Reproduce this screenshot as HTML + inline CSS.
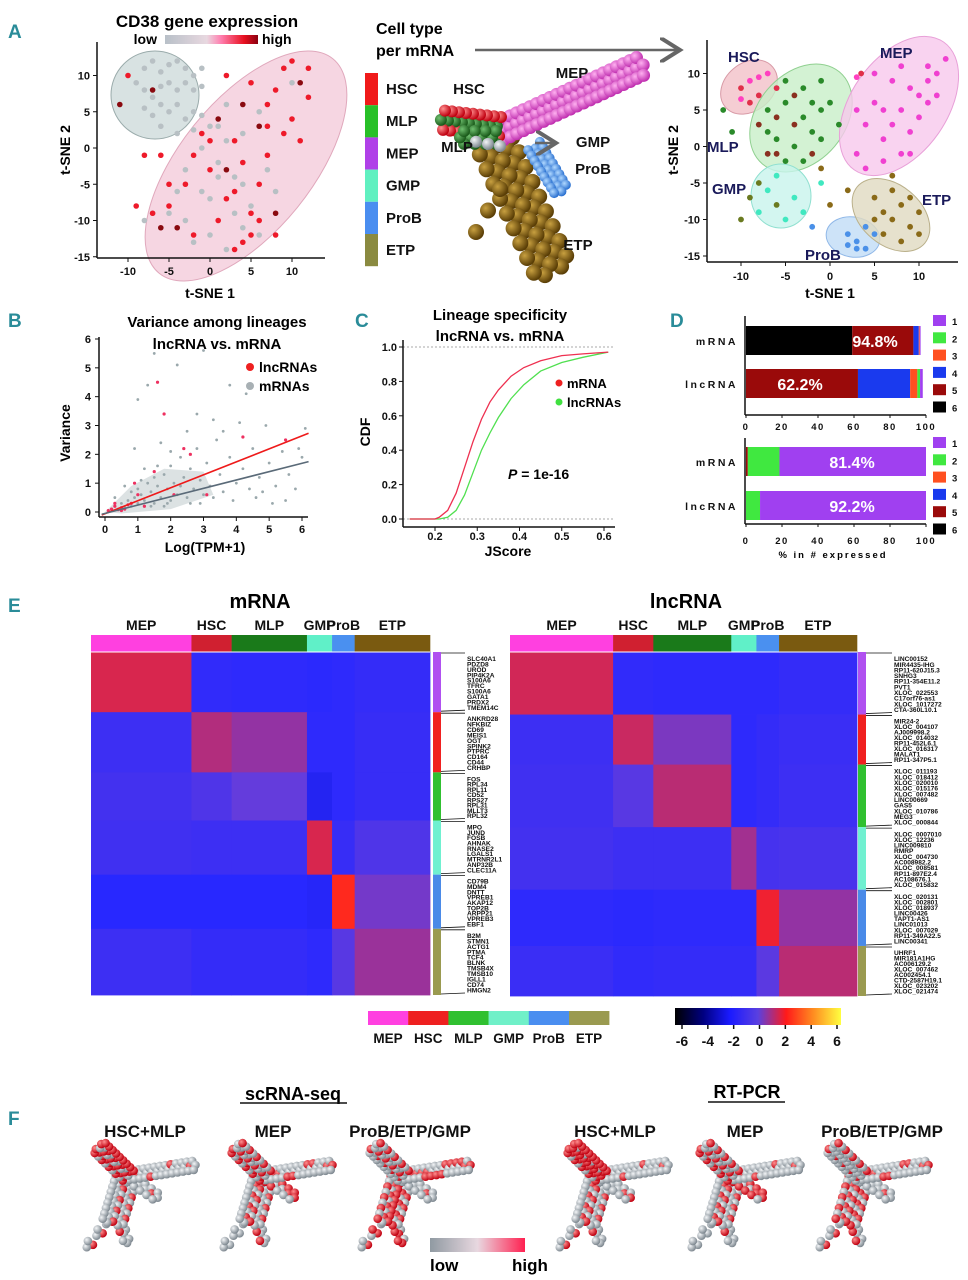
<!DOCTYPE html>
<html><head><meta charset="utf-8">
<style>
body{margin:0;background:#fff}
svg{display:block;font-family:"Liberation Sans",Arial,sans-serif}
.b{font-weight:bold}
.pl{fill:#2a8c99;font-size:19px;font-weight:bold;font-family:"Liberation Sans Narrow","Liberation Sans",sans-serif}
</style></head><body>
<svg id="fig" width="968" height="1280" viewBox="0 0 968 1280">
<defs>
<radialGradient id="sGray" cx="35%" cy="35%" r="65%"><stop offset="0" stop-color="#f4f6f8"/><stop offset="1" stop-color="#7e8890"/></radialGradient>
<radialGradient id="sRed" cx="35%" cy="35%" r="65%"><stop offset="0" stop-color="#ff9090"/><stop offset="1" stop-color="#c00010"/></radialGradient>
<radialGradient id="sMag" cx="35%" cy="35%" r="65%"><stop offset="0" stop-color="#ffb0f0"/><stop offset="1" stop-color="#c030b0"/></radialGradient>
<radialGradient id="sGreen" cx="35%" cy="35%" r="65%"><stop offset="0" stop-color="#70c070"/><stop offset="1" stop-color="#1a5a1a"/></radialGradient>
<radialGradient id="sBlue" cx="35%" cy="35%" r="65%"><stop offset="0" stop-color="#b0d8ff"/><stop offset="1" stop-color="#2a70d0"/></radialGradient>
<radialGradient id="sBrown" cx="35%" cy="35%" r="65%"><stop offset="0" stop-color="#c8a040"/><stop offset="1" stop-color="#5a3e06"/></radialGradient>
<linearGradient id="cdGrad" x1="0" x2="1"><stop offset="0" stop-color="#b8c0c8"/><stop offset="0.45" stop-color="#e8d8e0"/><stop offset="0.6" stop-color="#ff80b0"/><stop offset="0.85" stop-color="#e81020"/><stop offset="1" stop-color="#8a0010"/></linearGradient>
<linearGradient id="fGrad" x1="0" x2="1"><stop offset="0" stop-color="#909aa2"/><stop offset="0.5" stop-color="#e8d8e0"/><stop offset="1" stop-color="#ff2050"/></linearGradient>
<linearGradient id="hmGrad" x1="0" x2="1"><stop offset="0" stop-color="#000"/><stop offset="0.17" stop-color="#000080"/><stop offset="0.33" stop-color="#1a1aff"/><stop offset="0.5" stop-color="#5a40e0"/><stop offset="0.67" stop-color="#ff1a1a"/><stop offset="0.83" stop-color="#ff8a20"/><stop offset="1" stop-color="#ffff40"/></linearGradient>
<marker id="arr" markerWidth="10" markerHeight="10" refX="8" refY="5" orient="auto"><path d="M0,0 L8,5 L0,10" fill="none" stroke="#666" stroke-width="1.6"/></marker>
</defs>

<text class="pl" x="8" y="38">A</text>
<text class="pl" x="8" y="327">B</text>
<text class="pl" x="355" y="327">C</text>
<text class="pl" x="670" y="327">D</text>
<text class="pl" x="8" y="612">E</text>
<text class="pl" x="8" y="1125">F</text>

<text class="b" x="207" y="27" font-size="17" text-anchor="middle">CD38 gene expression</text>
<text class="b" x="157" y="44" font-size="14" text-anchor="end">low</text>
<rect x="165" y="35" width="93" height="9" fill="url(#cdGrad)"/>
<text class="b" x="262" y="44" font-size="14">high</text>
<g id="aLeft"></g>
<text class="b" x="210" y="298" font-size="14" text-anchor="middle">t-SNE 1</text>
<text class="b" x="70" y="150" font-size="14" text-anchor="middle" transform="rotate(-90 70 150)">t-SNE 2</text>

<text class="b" x="376" y="34" font-size="16">Cell type</text>
<text class="b" x="376" y="56" font-size="16">per mRNA</text>
<line x1="475" y1="50" x2="680" y2="50" stroke="#666" stroke-width="2.5" marker-end="url(#arr)"/>
<g id="ctLegend"></g>
<g id="aTree"></g>

<g id="aRight"></g>
<text class="b" x="830" y="298" font-size="14" text-anchor="middle">t-SNE 1</text>
<text class="b" x="678" y="150" font-size="14" text-anchor="middle" transform="rotate(-90 678 150)">t-SNE 2</text>

<text class="b" x="217" y="327" font-size="15" text-anchor="middle">Variance among lineages</text>
<text class="b" x="217" y="349" font-size="15" text-anchor="middle">lncRNA vs. mRNA</text>
<g id="pB"></g>
<text class="b" x="205" y="552" font-size="14" text-anchor="middle">Log(TPM+1)</text>
<text class="b" x="70" y="433" font-size="14" text-anchor="middle" transform="rotate(-90 70 433)">Variance</text>
<circle cx="250" cy="367" r="4" fill="#ee2020"/>
<text class="b" x="259" y="372" font-size="14">lncRNAs</text>
<circle cx="250" cy="386" r="4" fill="#a8b0b4"/>
<text class="b" x="259" y="391" font-size="14">mRNAs</text>

<text class="b" x="500" y="320" font-size="15" text-anchor="middle">Lineage specificity</text>
<text class="b" x="500" y="341" font-size="15" text-anchor="middle">lncRNA vs. mRNA</text>
<g id="pC"></g>
<text class="b" x="508" y="556" font-size="14" text-anchor="middle">JScore</text>
<text class="b" x="370" y="432" font-size="14" text-anchor="middle" transform="rotate(-90 370 432)">CDF</text>
<circle cx="559" cy="383" r="3.5" fill="#ee2020"/>
<text class="b" x="567" y="388" font-size="13">mRNA</text>
<circle cx="559" cy="402" r="3.5" fill="#40e040"/>
<text class="b" x="567" y="407" font-size="13">lncRNAs</text>
<text class="b" x="508" y="479" font-size="14"><tspan font-style="italic">P</tspan> = 1e-16</text>

<g id="pD"></g>
<text class="b" x="833" y="558" font-size="9.5" letter-spacing="2" text-anchor="middle">% in # expressed</text>

<text class="b" x="260" y="608" font-size="20" text-anchor="middle">mRNA</text>
<text class="b" x="686" y="608" font-size="20" text-anchor="middle">lncRNA</text>
<g id="hmL"></g>
<g id="hmR"></g>
<g id="eLeg"></g>

<text class="b" x="293" y="1100" font-size="18" text-anchor="middle">scRNA-seq</text>
<line x1="240" y1="1103" x2="347" y2="1103" stroke="#111" stroke-width="1.5"/>
<text class="b" x="747" y="1098" font-size="18" text-anchor="middle">RT-PCR</text>
<line x1="708" y1="1102" x2="785" y2="1102" stroke="#111" stroke-width="1.5"/>
<g id="fTrees"></g>
<rect x="430" y="1238" width="95" height="14" fill="url(#fGrad)"/>
<text class="b" x="430" y="1271" font-size="17">low</text>
<text class="b" x="512" y="1271" font-size="17">high</text>
</svg>

<script>
// ---------- DATA ----------
const cellTypes=['HSC','MLP','MEP','GMP','ProB','ETP'];
const cd38Gray=[[-8,11],[-7,12],[-6,10.5],[-5,11.5],[-4,12],[-3,11],[-2,10],[-1,11],[-9,9],[-8,8],[-7,7],[-6,8.5],[-5,9],[-4,8],[-3,9],[-2,8],[-1,8.5],[-8,5.5],[-7,4.5],[-6,6],[-5,5],[-4,6],[-3,4],[-2,5],[-1,4.5],[-6,3],[-4,2],[-2,2.5],[0,3],[2,1],[4,2],[6,5],[1,-2],[3,-4],[-3,-3],[-1,-6],[5,-8],[0,-12],[-5,-9],[7,-3],[2,6],[8,-6],[4,-11],[-2,-13],[-1,0],[1,-4],[0,-7],[3,-9],[-4,-6],[-3,-10],[9,11],[10,9],[-7,-9],[-8,-10],[6,-12],[2,-14],[1,3],[4,-5]];
const cd38Red=[[-11,6],[-8,-1],[-6,-1],[-5,-8],[-7,-9],[-4,-11],[-3,-5],[-2,-1],[-1,2],[0,-3],[1,4],[2,-7],[3,1],[4,-2],[5,-9],[6,3],[7,6],[8,8],[9,11],[10,12],[11,9],[12,7],[9,2],[7,-1],[6,-5],[8,-9],[5,-12],[3,-14],[1,-10],[-2,-12],[4,6],[2,10],[5,9],[10,4],[11,1],[-6,-11],[-9,-8],[0,1],[3,-6],[6,-10],[-7,8],[-10,10],[8,-12],[4,-13],[-5,-5],[2,-3],[7,3],[12,11]];
const tsneHSC=[[-10,8],[-9,9],[-8,7],[-7,10],[-9,6],[-8,9.5],[-6,8],[-10,6.5],[3.5,10],[3,9.5]];
const tsneMLP=[[-8,3],[-7,5],[-6,1],[-5,6],[-4,3],[-3,8],[-2,2],[-1,5],[-6,-1],[-5,-2],[-4,0],[-3,4],[-2,-1],[-7,2],[-1,9],[0,6],[-4,7],[-5,9],[-3,-2],[-2,6],[-6,4],[-12,5],[-11,2],[1,3],[-7,-1],[-1,1]];
const tsneMEP=[[4,3],[5,6],[6,1],[7,9],[8,5],[9,2],[10,7],[11,11],[12,10],[13,12],[3,-1],[4,-3],[6,-2],[7,3],[8,-1],[9,8],[10,4],[11,6],[5,10],[8,11],[12,7],[6,5],[9,-1],[3,5],[11,9]];
const tsneGMP=[[-9,-7],[-8,-9],[-7,-6],[-6,-8],[-5,-10],[-4,-7],[-8,-5],[-6,-4],[-3,-9],[-10,-10],[-1,-5]];
const tsneProB=[[2,-12],[3,-13],[4,-11],[3,-14],[5,-12],[2,-13.5],[-2,-11],[4,-14]];
const tsneETP=[[5,-7],[6,-9],[7,-10],[8,-8],[9,-11],[10,-9],[6,-12],[8,-13],[7,-6],[5,-10],[9,-7],[10,-12],[7,-4],[-1,-3],[0,-8],[2,-6]];
const bGray=[[0.1,0.05],[0.2,0.1],[0.3,0.2],[0.4,0.1],[0.5,0.3],[0.6,0.15],[0.7,0.4],[0.8,0.2],[0.9,0.5],[1,0.3],[1,0.8],[1.1,0.6],[1.2,0.4],[1.3,1.0],[1.4,0.7],[1.5,0.3],[1.5,1.2],[1.6,0.9],[1.7,0.5],[1.8,1.3],[1.9,0.8],[2,0.4],[2,1.6],[2.1,1.0],[2.2,0.6],[2.3,1.9],[2.4,1.2],[2.5,0.5],[2.6,1.5],[2.7,0.8],[2.8,2.2],[2.9,1.1],[3,0.6],[3.1,1.7],[3.2,0.9],[3.4,2.5],[3.5,1.3],[3.6,0.7],[3.8,1.9],[4,1.0],[4.1,3.1],[4.2,1.5],[4.4,0.8],[4.5,2.2],[4.7,1.2],[4.9,3.0],[5,1.7],[5.2,0.9],[5.4,2.1],[5.6,1.3],[5.8,0.8],[6,1.9],[6.1,2.9],[1.5,5.5],[3,5.6],[2.2,5.1],[1,3.9],[4.3,4.1],[0.9,2.2],[2.8,3.4],[3.8,4.4],[1.3,4.4],[3.3,3.2],[5.9,2.2],[2.5,2.8],[1.7,2.4],[0.6,0.9],[1.2,1.5],[2.9,0.3],[4.6,0.5],[5.5,0.4],[0.3,0.5],[2,2.1],[1.8,0.2],[3.6,2.8],[1.1,1.1],[1.4,0.2],[2.3,0.9],[2.6,0.3],[3.3,0.5],[0.8,0.7],[1.6,1.6],[1.9,0.3],[3.9,0.4],[4.8,0.7],[5.1,0.3]];
const bRed=[[0.1,0.05],[0.2,0.1],[0.3,0.2],[0.4,0.08],[0.5,0.15],[0.6,0.1],[0.7,0.25],[0.3,0.3],[0.5,0.05],[0.8,0.3],[1,0.6],[1.2,0.2],[1.6,4.5],[2.4,2.2],[1.8,3.4],[2.6,2.0],[0.9,1.0],[1.5,1.4],[2.1,0.6],[3.1,0.6],[4.2,2.6],[5.5,2.5]];
const bSlopes=[0.45,0.29];
const bIntercept=[-0.06,-0.05];
const cdfX=[0.14,0.2,0.21,0.23,0.25,0.27,0.29,0.31,0.33,0.35,0.38,0.41,0.45,0.5,0.55,0.61];
const cdfMrna=[0,0,0.01,0.05,0.15,0.3,0.45,0.58,0.68,0.75,0.83,0.88,0.92,0.95,0.96,0.97];
const cdfLnc=[0,0,0,0.01,0.05,0.14,0.27,0.4,0.5,0.59,0.7,0.78,0.86,0.91,0.94,0.97];
const dRows=['mRNA','lncRNA'];
const dTopMrna=[[6,59],[5,34],[4,3],[3,0.5],[1,0.5]];
const dTopLnc=[[5,62.2],[4,29],[3,4],[2,1.5],[1,1.5]];
const dBotMrna=[[5,1],[2,17.6],[1,81.4]];
const dBotLnc=[[2,7.8],[1,92.2]];
const dTopLabels=['94.8%','62.2%'];
const dBotLabels=['81.4%','92.2%'];
const hmGroups=['MEP','HSC','MLP','GMP','ProB','ETP'];
const leftCellCounts=[40,16,30,10,9,30];
const rightCellCounts=[41,16,31,10,9,31];
const leftGeneCounts=[10,10,8,9,9,11];
const rightGeneCounts=[10,8,10,10,9,8];
const leftMeans=[[1.5,-1.7,-1.8,-1.9,-1.8,-1.6],[-1.3,1.0,0.6,-1.8,-1.8,-1.5],[-1.1,-0.7,0.0,-2.2,-1.8,-1.5],[-1.2,-1.3,-1.3,1.5,-1.5,-0.7],[-2.0,-2.0,-2.0,-2.1,2.2,0.2],[-1.3,-1.6,-1.6,-1.8,-0.4,0.7]];
const rightMeans=[[1.4,-1.7,-1.8,-1.8,-1.8,-1.6],[-1.3,1.3,0.3,-1.8,-1.6,-1.4],[-1.2,-0.4,1.1,-1.8,-1.6,-1.3],[-1.1,-1.3,-1.3,0.8,-1.0,-0.9],[-1.8,-1.9,-1.8,-1.8,1.8,0.6],[-1.4,-1.7,-1.6,-1.6,-0.3,1.1]];
const leftGenes=[['SLC40A1','PDZD8','UROD','PIP4K2A','S100A6','TFRC','S100A6','GATA1','PRDX2','TMEM14C'],['ANKRD28','NFKBIZ','CD69','MEIS1','OGT','SPINK2','PTPRC','CD164','CD44','CRHBP'],['FOS','RPL34','RPL11','CD52','RPS27','RPL31','MLLT3','RPL32'],['MPO','JUND','FOSB','AHNAK','RNASE2','LGALS1','MTRNR2L1','ANP32B','CLEC11A'],['CD79B','MDM4','DNTT','VPREB1','AKAP12','TOP2B','ARPP21','VPREB3','EBF1'],['B2M','STMN1','ACTG1','PTMA','TCF4','BLNK','TMSB4X','TMSB10','IGLL1','CD74','HMGN2']];
const rightGenes=[['LINC00152','MIR4435-IHG','RP11-620J15.3','SNHG3','RP11-354E11.2','PVT1','XLOC_022553','C17orf76-as1','XLOC_1017272','CTA-360L10.1'],['MIR24-2','XLOC_004107','AJ009998.2','XLOC_014032','RP11-452L6.1','XLOC_016317','MALAT1','RP11-347P5.1'],['XLOC_011193','XLOC_018412','XLOC_020010','XLOC_015176','XLOC_007482','LINC00669','GAS5','XLOC_010786','MEG3','XLOC_000844'],['XLOC_0007010','XLOC_12236','LINC009810','RMRP','XLOC_004730','AC008982.2','XLOC_008581','RP11-897E2.4','AC108676.1','XLOC_015832'],['XLOC_020131','XLOC_002801','XLOC_018937','LINC00426','TAPT1-AS1','LINC01013','XLOC_007029','RP11-349A22.5','LINC00341'],['UHRF1','MIR181A1HG','AC006129.2','XLOC_007462','AC002454.1','CTD-2587H19.1','XLOC_023202','XLOC_021474']];
const cbTicks=[-6,-4,-2,0,2,4,6];
const fTitles=['HSC+MLP','MEP','ProB/ETP/GMP','HSC+MLP','MEP','ProB/ETP/GMP'];
const fRedFrac=[[0.1,0.7,0.2,0.35,0.1,0.1],[0.6,0.35,0.3,0.1,0.2,0.3],[0.05,0.3,0.6,0.6,0.4,0.6],[0.12,0.75,0.3,0.3,0.1,0.1],[0.8,0.35,0.3,0.1,0.1,0.1],[0.08,0.2,0.5,0.4,0.2,0.3]];

// ---------- HELPERS ----------
const NS='http://www.w3.org/2000/svg';
function el(tag,attrs,parent){const e=document.createElementNS(NS,tag);for(const k in attrs)e.setAttribute(k,attrs[k]);parent.appendChild(e);return e;}
function txt(parent,x,y,s,size,anchor,extra){const t=el('text',Object.assign({x:x,y:y,'font-size':size,'text-anchor':anchor||'middle','font-weight':'bold',fill:'#111'},extra||{}),parent);t.textContent=s;return t;}
function lin(d0,d1,r0,r1){return v=>r0+(v-d0)*(r1-r0)/(d1-d0);}

(function(){
 const g=document.getElementById('aLeft');
 const sx=lin(0,10,210,292), sy=lin(0,10,148,75.5);
 let e=el('ellipse',{cx:155,cy:95,rx:44,ry:44,fill:'#d8e2e2',stroke:'#9aabab','stroke-width':1},g);
 
 e=el('ellipse',{cx:246,cy:166,rx:138,ry:66,transform:'rotate(-51 246 166)',fill:'#f6d6e2',stroke:'#e0a8bc','stroke-width':1},g);
 
 cd38Gray.forEach(p=>{const c=el('circle',{cx:sx(p[0]),cy:sy(p[1]),r:2.8,fill:'#b8c0c4'},g);
  });
 cd38Red.forEach((p,i)=>{const c=el('circle',{cx:sx(p[0]),cy:sy(p[1]),r:2.8,fill:i%5==0?'#8a0a10':'#ee1a2a'},g);
  });
 el('line',{x1:97,y1:42,x2:97,y2:258,stroke:'#111','stroke-width':1.5},g);
 el('line',{x1:97,y1:258,x2:325,y2:258,stroke:'#111','stroke-width':1.5},g);
 [-10,-5,0,5,10].forEach(v=>{el('line',{x1:sx(v),y1:258,x2:sx(v),y2:262,stroke:'#111'},g);txt(g,sx(v),275,String(v),11);});
 [10,5,0,-5,-10,-15].forEach(v=>{el('line',{x1:93,y1:sy(v),x2:97,y2:sy(v),stroke:'#111'},g);txt(g,90,sy(v)+4,String(v),11,'end');});
})();

(function(){
 const g=document.getElementById('ctLegend');
 const cols=['#f01a1a','#28c028','#b040e8','#60f0c0','#4a8ef0','#8a8a40'];
 cellTypes.forEach((c,i)=>{const r=el('rect',{x:365,y:73+i*32.2,width:13,height:32.2,fill:cols[i]},g);
  
  const t=txt(g,386,94+i*32.2,c,15,'start');
  });
})();

// branch node generator: several lateral rows for thickness
function branchNodes(b){const out=[];const [x0,y0,x1,y1,n,w]=b;const dx=x1-x0,dy=y1-y0,L=Math.hypot(dx,dy)||1;const px=-dy/L,py=dx/L;
 for(let i=0;i<n;i++){const t=n==1?0:i/(n-1);const bx=x0+dx*t,by=y0+dy*t;
  if(w>0){const k=w>0.06?[-1,-0.5,0,0.5,1]:[-1,0,1];k.forEach((f,j)=>{const sh=(j%2?0.5:0)/(n||1);out.push([bx+px*w*f+dx*sh,by+py*w*f+dy*sh]);});}
  else out.push([bx,by]);}return out;}

(function(){
 const g=document.getElementById('aTree');
 const bx=440,by=60,bw=200,bh=215;
 const br=[[0.28,0.40,0.55,0.95,9,0.09,'sBrown',8],[0.3,0.6,0.18,0.8,3,0,'sBrown',8],[0.47,0.40,0.6,0.6,9,0.035,'sBlue',5],[0.30,0.33,1.0,0.03,22,0.045,'sMag',6.5],[0.30,0.31,0.02,0.28,9,0.045,'sRed',6],[0.28,0.36,0.12,0.36,4,0.03,'sGreen',6],[0.3,0.40,0.18,0.38,3,0,'sGray',6]];
 br.forEach((b,bi)=>{branchNodes(b).forEach((p,i)=>{let f=b[6];if(bi==4&&i%3==1)f='sGreen';
  const c=el('circle',{cx:bx+p[0]*bw,cy:by+p[1]*bh,r:b[7],fill:'url(#'+f+')'},g);
  });});
 el('line',{x1:535,y1:143,x2:556,y2:143,stroke:'#666','stroke-width':2.5,'marker-end':'url(#arr)'},g);
 [['MEP',572,78],['HSC',469,94],['MLP',457,152],['GMP',593,147],['ProB',593,174],['ETP',578,250]].forEach(l=>{const t=txt(g,l[1],l[2],l[0],15,'middle');
  });
})();

(function(){
 const g=document.getElementById('aRight');
 const sx=lin(0,10,830,919), sy=lin(0,10,146.5,73.5);
 const ells=[[749,87,31,24,-40,'#f2c0c8','#d89aa6','HSC'],[801,118,44,60,40,'#c8efc8','#90d090','MLP'],[899,106,48,78,35,'#f8c8ec','#e8a0d8','MEP'],[781,196,30,32,0,'#c8f4ec','#90e0d0','GMP'],[853,237,27,20,10,'#c0dcf6','#90b8e8','ProB'],[891,215,44,30,40,'#e0dac0','#bab08a','ETP']];
 ells.forEach(e=>{const n=el('ellipse',{cx:e[0],cy:e[1],rx:e[2],ry:e[3],transform:`rotate(${e[4]} ${e[0]} ${e[1]})`,fill:e[5],stroke:e[6],'fill-opacity':0.8},g);
  });
 const sets=[[tsneHSC,'#e0304a'],[tsneMLP,'#2a8a2a'],[tsneMEP,'#f040d0'],[tsneGMP,'#40e8c0'],[tsneProB,'#4a90e8'],[tsneETP,'#8a6a18']];
 sets.forEach((s,si)=>s[0].forEach((p,i)=>{let col=s[1];if(si==1&&i%4==0)col='#8a3020';if(si==0&&i%2==1)col='#ff40c0';if(si==3&&i%3==0)col='#6a7a20';
  const c=el('circle',{cx:sx(p[0]),cy:sy(p[1]),r:2.9,fill:col},g);
  }));
 el('line',{x1:707,y1:40,x2:707,y2:262,stroke:'#111','stroke-width':1.5},g);
 el('line',{x1:707,y1:262,x2:958,y2:262,stroke:'#111','stroke-width':1.5},g);
 [-10,-5,0,5,10].forEach(v=>{el('line',{x1:sx(v),y1:262,x2:sx(v),y2:266,stroke:'#111'},g);txt(g,sx(v),280,String(v),11);});
 [10,5,0,-5,-10,-15].forEach(v=>{el('line',{x1:703,y1:sy(v),x2:707,y2:sy(v),stroke:'#111'},g);txt(g,700,sy(v)+4,String(v),11,'end');});
 [['HSC',728,62],['MEP',880,58],['MLP',707,152],['GMP',712,194],['ETP',922,205],['ProB',805,260]].forEach(l=>{const t=txt(g,l[1],l[2],l[0],15,'start',{fill:'#1a1a5a'});
  });
})();

(function(){
 const g=document.getElementById('pB');
 const sx=lin(0,6,105,302), sy=lin(0,6,512,339);
 el('path',{d:`M${sx(0)},${sy(0)} L${sx(0.8)},${sy(0.9)} L${sx(1.8)},${sy(1.5)} L${sx(3)},${sy(1.4)} L${sx(3.3)},${sy(0.6)} L${sx(2)},${sy(0.1)} L${sx(0.5)},${sy(-0.05)}Z`,fill:'#c4ced0','fill-opacity':0.6},g);
 bGray.forEach(p=>{const c=el('circle',{cx:sx(p[0]),cy:sy(p[1]),r:1.4,fill:'#9aa8ac'},g);
  });
 bRed.forEach(p=>{const c=el('circle',{cx:sx(p[0]),cy:sy(p[1]),r:1.6,fill:'#ee3060'},g);
  });
 ['#ee1a1a','#5a6a78'].forEach((col,i)=>{const l=el('line',{x1:sx(-0.1),y1:sy(bIntercept[i]-0.1*bSlopes[i]),x2:sx(6.2),y2:sy(bIntercept[i]+6.2*bSlopes[i]),stroke:col,'stroke-width':1.6},g);
  });
 el('line',{x1:99,y1:337,x2:99,y2:517,stroke:'#111','stroke-width':1.5},g);
 el('line',{x1:99,y1:517,x2:308,y2:517,stroke:'#111','stroke-width':1.5},g);
 [0,1,2,3,4,5,6].forEach(v=>{el('line',{x1:sx(v),y1:517,x2:sx(v),y2:521,stroke:'#111'},g);txt(g,sx(v),533,String(v),11);
  el('line',{x1:95,y1:sy(v),x2:99,y2:sy(v),stroke:'#111'},g);txt(g,91,sy(v)+4,String(v),11,'end');});
})();

(function(){
 const g=document.getElementById('pC');
 const sx=lin(0.2,0.6,435,604), sy=lin(0,1,519,347);
 [0,1].forEach(v=>el('line',{x1:403,y1:sy(v),x2:615,y2:sy(v),stroke:'#aaa','stroke-dasharray':'2,2'},g));
 const mk=(arr,col,name)=>{const d=cdfX.map((x,i)=>(i?'L':'M')+sx(x)+','+sy(arr[i])).join(' ');
  const p=el('path',{d:d,fill:'none',stroke:col,'stroke-width':1.3},g);};
 mk(cdfLnc,'#50e050','cdf-lncrna-line');mk(cdfMrna,'#ee3050','cdf-mrna-line');
 el('line',{x1:403,y1:340,x2:403,y2:527,stroke:'#111','stroke-width':1.5},g);
 el('line',{x1:403,y1:527,x2:615,y2:527,stroke:'#111','stroke-width':1.5},g);
 [0,0.2,0.4,0.6,0.8,1].forEach(v=>{el('line',{x1:399,y1:sy(v),x2:403,y2:sy(v),stroke:'#111'},g);txt(g,397,sy(v)+4,v.toFixed(1),11,'end');});
 [0.2,0.3,0.4,0.5,0.6].forEach(v=>{el('line',{x1:sx(v),y1:527,x2:sx(v),y2:531,stroke:'#111'},g);txt(g,sx(v),540,v.toFixed(1),11);});
})();

(function(){
 const g=document.getElementById('pD');
 const cols={1:'#a040f0',2:'#40e840',3:'#ff5020',4:'#1a3aee',5:'#9a0a0a',6:'#000'};
 const sx=lin(0,100,746,926);
 const bars=[[dTopMrna,326,dTopLabels[0],875],[dTopLnc,369,dTopLabels[1],800],[dBotMrna,447,dBotLabels[0],852],[dBotLnc,491,dBotLabels[1],852]];
 bars.forEach((b,bi)=>{let acc=0;b[0].forEach(s=>{const r=el('rect',{x:sx(acc),y:b[1],width:sx(acc+s[1])-sx(acc),height:29,fill:cols[s[0]]},g);
   acc+=s[1];});
  const t=txt(g,b[3],b[1]+21,b[2],16,'middle',{fill:'#fff'});
  const l=txt(g,738,b[1]+19,dRows[bi%2],10.5,'end',{'letter-spacing':'2.5'});});
 [[316,415,424],[438,524,538]].forEach(a=>{el('line',{x1:745,y1:a[0],x2:745,y2:a[1],stroke:'#111','stroke-width':1.5},g);
  el('line',{x1:745,y1:a[1],x2:926,y2:a[1],stroke:'#111','stroke-width':1.5},g);
  [0,20,40,60,80,100].forEach(v=>{el('line',{x1:sx(v),y1:a[1],x2:sx(v),y2:a[1]+3,stroke:'#111'},g);txt(g,sx(v),a[2]+6,String(v),9.5,'middle',{'letter-spacing':'1.5'});});});
 [[315,17.3],[437,17.3]].forEach(a=>{[1,2,3,4,5,6].forEach((k,i)=>{const r=el('rect',{x:933,y:a[0]+i*a[1],width:13,height:11,fill:cols[k]},g);
   txt(g,952,a[0]+i*a[1]+10,String(k),9.5,'start');});});
})();

function hmColor(v){const st=[[-6,[0,0,0]],[-4,[0,0,128]],[-2,[40,40,255]],[0,[100,60,220]],[2,[255,30,30]],[4,[255,140,32]],[6,[255,255,64]]];
 v=Math.max(-6,Math.min(6,v));for(let i=0;i<st.length-1;i++){if(v<=st[i+1][0]){const t=(v-st[i][0])/(st[i+1][0]-st[i][0]);const a=st[i][1],b=st[i+1][1];return `rgb(${a.map((c,k)=>Math.round(c+(b[k]-c)*t)).join(',')})`;}}return 'rgb(255,255,64)';}
function heatmap(gid,x0,x1,y0,y1,cellCounts,geneCounts,means,genes,sideX,labX,hdrCols){
 const g=document.getElementById(gid);
 const totC=cellCounts.reduce((a,b)=>a+b,0), totG=geneCounts.reduce((a,b)=>a+b,0);
 const cx=[x0];cellCounts.forEach(c=>cx.push(cx[cx.length-1]+c/totC*(x1-x0)));
 const gy=[y0];geneCounts.forEach(c=>gy.push(gy[gy.length-1]+c/totG*(y1-y0)));
 hmGroups.forEach((h,i)=>{const r=el('rect',{x:cx[i],y:635,width:cx[i+1]-cx[i]+0.3,height:17,fill:hdrCols[i]},g);
  
  const t=txt(g,(cx[i]+cx[i+1])/2,630,h,14);});
 const sideCols=['#b050f0','#f02020','#30c030','#70f0d0','#4a8ae8','#9a9a50'];
 means.forEach((row,gi)=>{row.forEach((v,ci)=>{const r=el('rect',{x:cx[ci],y:gy[gi],width:cx[ci+1]-cx[ci]+0.4,height:gy[gi+1]-gy[gi]+0.4,fill:hmColor(v)},g);
   });
  const s=el('rect',{x:sideX,y:gy[gi],width:8,height:gy[gi+1]-gy[gi],fill:sideCols[gi]},g);
  
  const n=genes[gi].length,h=(gy[gi+1]-gy[gi]);
  genes[gi].forEach((name,k)=>{const yy=gy[gi]+4+(k+0.5)*(h-6)/n;const t=txt(g,labX,yy+2.3,name,6.6,'start');
   });
  el('line',{x1:sideX+8,y1:gy[gi]+1,x2:labX-2,y2:gy[gi]+1,stroke:'#111','stroke-width':0.8},g);
  el('line',{x1:sideX+8,y1:gy[gi+1]-1,x2:labX-2,y2:gy[gi+1]-2,stroke:'#111','stroke-width':0.8},g);});
 el('line',{x1:x0,y1:y0,x2:x1,y2:y0,stroke:'#fff','stroke-width':1},g);
}
heatmap('hmL',91,430,652,995,leftCellCounts,leftGeneCounts,leftMeans,leftGenes,433,467,['#ff40e0','#d02030','#1a7a1a','#60f0c8','#4a90f0','#7a5a10']);
heatmap('hmR',510,857,652,996,rightCellCounts,rightGeneCounts,rightMeans,rightGenes,858,894,['#ff40e0','#d02030','#1a7a1a','#60f0c8','#4a90f0','#7a5a10']);
(function(){
 const g=document.getElementById('eLeg');
 const cols=['#ff40e0','#ee2020','#30c030','#70f0c8','#4a8ef0','#9a9a50'];
 hmGroups.forEach((h,i)=>{const r=el('rect',{x:368+i*40.2,y:1011,width:40.4,height:14,fill:cols[i]},g);
  
  const t=txt(g,388+i*40.2,1043,h,13.5);});
 const cb=el('rect',{x:675,y:1008,width:166,height:17,fill:'url(#hmGrad)'},g);
 
 const sx=lin(-6,6,682,837);
 cbTicks.forEach(v=>{el('line',{x1:sx(v),y1:1025,x2:sx(v),y2:1029,stroke:'#111','stroke-width':1.5},g);
  const t=txt(g,sx(v),1046,String(v),14);});
})();

(function(){
 const g=document.getElementById('fTrees');
 const boxes=[[85,1145],[222,1145],[360,1145],[558,1145],[690,1145],[818,1145]];
 const labX=[145,273,410,615,745,882];
 const tmpl=[[0.32,0.62,0.05,0.96,4,0.03],[0.32,0.75,0.38,0.93,3,0.03],[0.38,0.33,0.26,0.75,9,0.1],[0.42,0.33,0.65,0.5,5,0.04],[0.40,0.30,1.0,0.20,13,0.045],[0.40,0.30,0.14,0.03,9,0.07]];
 const order=[3,5,2,0,4,1];
 boxes.forEach((b,ti)=>{const t=txt(g,labX[ti],1137,fTitles[ti],17);
  
  tmpl.forEach((br,bj)=>{const bi=order[bj];const nodes=branchNodes(br);const fr=fRedFrac[ti][bi];
   nodes.forEach((p,i)=>{const red=((i*7+bi*3)%10)/10<fr;
    const c=el('circle',{cx:b[0]+p[0]*108,cy:b[1]+p[1]*102,r:4.3,fill:red?'url(#sRed)':'url(#sGray)'},g);
    });});});
})();
</script>
</body></html>
